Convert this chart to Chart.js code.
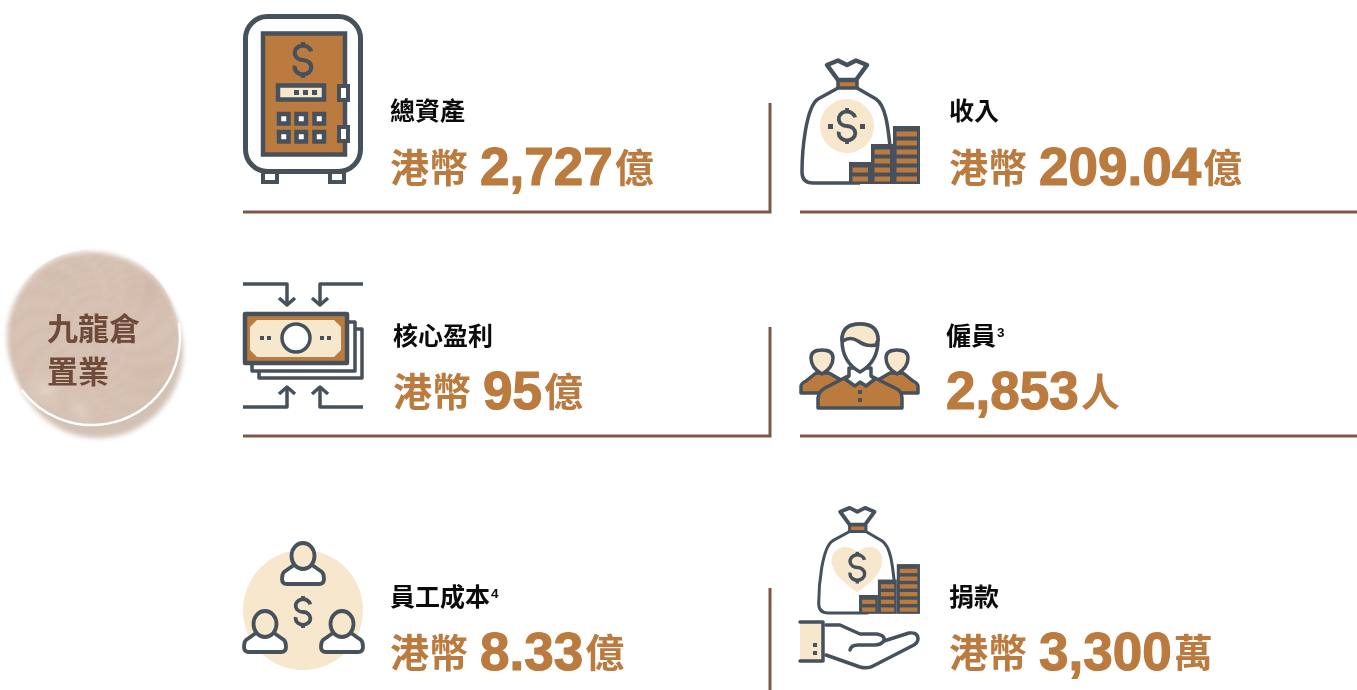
<!DOCTYPE html>
<html>
<head>
<meta charset="utf-8">
<style>
  html, body { margin: 0; padding: 0; background: #fff; overflow: hidden; }
  canvas { display: block; }
</style>
</head>
<body>
<canvas id="chart" width="1357" height="690"></canvas>
<script src="https://cdn.jsdelivr.net/npm/chart.js@4"></script>
<script>
const companyName = ["九龍倉", "置業"];
const metricLabels = ["總資產", "收入", "核心盈利", "僱員", "員工成本", "捐款"];
const metricNotes = ["", "", "", "3", "4", ""];
const metricPrefixes = ["港幣", "港幣", "港幣", "", "港幣", "港幣"];
const metricValues = ["2,727", "209.04", "95", "2,853", "8.33", "3,300"];
const metricUnits = ["億", "億", "億", "人", "億", "萬"];

// where each card's text sits, in axis units
const cardX = [390, 949, 393, 946, 390, 949];
const cardTitleY = [120, 120, 345, 345, 606, 606];
const cardValueY = [185, 185, 409, 409, 670, 670];

const SLATE = "#46515c";
const BROWN = "#bb7b3f";
const CREAM = "#f6e7cd";
const RULE = "#7c5848";
const CJK = '"Noto Sans CJK TC"';
const LATIN = '"Liberation Sans"';

// divider rules, one dataset each
const ruleLines = [
  [[243, 212], [770, 212], [770, 103]],
  [[800, 212], [1357, 212]],
  [[243, 436], [770, 436], [770, 327]],
  [[800, 436], [1357, 436]],
  [[770, 588], [770, 690]],
];

function poly(ctx, pts, close) {
  ctx.beginPath();
  pts.forEach((p, i) => (i ? ctx.lineTo(p[0], p[1]) : ctx.moveTo(p[0], p[1])));
  if (close) ctx.closePath();
}

function box(ctx, x, y, w, h, fill, lw) {
  ctx.fillStyle = fill;
  ctx.fillRect(x, y, w, h);
  ctx.lineWidth = lw;
  ctx.strokeStyle = SLATE;
  ctx.strokeRect(x, y, w, h);
}

function dollar(ctx, cx, cy, h, lw) {
  const rx = h * 0.23;
  const ry = h * 0.2;
  ctx.strokeStyle = SLATE;
  ctx.lineWidth = lw;
  ctx.lineCap = "butt";
  ctx.beginPath();
  ctx.ellipse(cx, cy - ry, rx, ry, 0, -0.2, Math.PI / 2, true);
  ctx.ellipse(cx, cy + ry, rx, ry, 0, -Math.PI / 2, Math.PI + 0.2, false);
  ctx.stroke();
  ctx.beginPath();
  ctx.moveTo(cx, cy - h / 2);
  ctx.lineTo(cx, cy - 2 * ry);
  ctx.moveTo(cx, cy + h / 2);
  ctx.lineTo(cx, cy + 2 * ry);
  ctx.stroke();
}

function drawSafe(ctx) {
  ctx.lineWidth = 4.5;
  ctx.strokeStyle = SLATE;
  box(ctx, 263, 172, 14, 10, "#fff", 4);
  box(ctx, 330, 172, 14, 10, "#fff", 4);
  ctx.lineWidth = 5;
  ctx.strokeStyle = SLATE;
  ctx.beginPath();
  ctx.roundRect(245.5, 16.5, 115, 155, 22);
  ctx.fillStyle = "#fff";
  ctx.fill();
  ctx.stroke();
  box(ctx, 263, 33.5, 82, 121, BROWN, 4.5);
  dollar(ctx, 303, 60, 36, 4.2);
  box(ctx, 278, 85.5, 46, 14, CREAM, 4.5);
  ctx.fillStyle = SLATE;
  [294, 303, 312].forEach((x) => ctx.fillRect(x, 90, 5, 5));
  [279, 296.5, 314.5].forEach((x) => {
    [114, 132].forEach((y) => {
      box(ctx, x, y, 9.5, 9.5, "#fff", 4.5);
    });
  });
  box(ctx, 339, 86, 9, 14, "#fff", 4);
  box(ctx, 339, 127, 9, 14, "#fff", 4);
}

// money bag with coin stacks, drawn around its lower left corner
function drawBag(ctx, ox, oy, s, inner) {
  ctx.save();
  ctx.translate(ox, oy);
  ctx.scale(s, s);
  ctx.translate(-800, -183);
  ctx.strokeStyle = SLATE;
  ctx.lineWidth = 4.5;
  ctx.lineJoin = "round";
  poly(ctx, [[827, 65], [838, 60.5], [847, 65], [856, 60.5], [867, 65], [856, 80], [838, 80]], true);
  ctx.stroke();
  box(ctx, 838, 80.5, 19, 7.5, BROWN, 3.5);
  ctx.beginPath();
  ctx.moveTo(838, 88);
  ctx.lineTo(818, 99);
  ctx.bezierCurveTo(806, 107, 802, 150, 802, 172);
  ctx.quadraticCurveTo(802, 183, 813, 183);
  ctx.lineTo(860, 183);
  ctx.moveTo(857, 88);
  ctx.lineTo(876, 99);
  ctx.bezierCurveTo(886, 106, 888, 128, 890, 146);
  ctx.stroke();
  inner(ctx);
  const stacks = [[849, 162], [871, 144], [893, 126]];
  const rows = [132, 141, 150, 159, 168, 177];
  stacks.forEach((st, i) => {
    const w = i === 2 ? 27 : 22;
    ctx.fillStyle = SLATE;
    ctx.fillRect(st[0], st[1], w, 184 - st[1]);
    ctx.fillStyle = BROWN;
    rows.filter((y) => y > st[1]).forEach((y) => ctx.fillRect(st[0] + 3.5, y - 0.5, w - 6.5, 5));
  });
  ctx.restore();
}

function drawHand(ctx) {
  ctx.fillStyle = CREAM;
  ctx.fillRect(800, 622, 23, 39);
  ctx.strokeStyle = SLATE;
  ctx.lineWidth = 3.5;
  ctx.lineJoin = "round";
  ctx.lineCap = "round";
  poly(ctx, [[800, 622], [823, 622], [823, 661], [800, 661]]);
  ctx.stroke();
  ctx.fillStyle = SLATE;
  ctx.fillRect(813, 643, 4, 4);
  ctx.fillRect(813, 651, 4, 4);
  ctx.beginPath();
  ctx.moveTo(826, 625);
  ctx.lineTo(840, 625);
  ctx.lineTo(860, 634);
  ctx.lineTo(877, 634);
  ctx.quadraticCurveTo(887, 636, 883, 642);
  ctx.quadraticCurveTo(880, 645, 875, 645);
  ctx.lineTo(858, 645);
  ctx.quadraticCurveTo(851, 645, 850, 650);
  ctx.moveTo(884, 641);
  ctx.lineTo(909, 633);
  ctx.quadraticCurveTo(918, 632, 918, 639);
  ctx.quadraticCurveTo(918, 643, 912, 646);
  ctx.lineTo(873, 666);
  ctx.quadraticCurveTo(868, 669, 860, 667);
  ctx.lineTo(826, 655);
  ctx.stroke();
  ctx.lineCap = "butt";
}

function drawMoney(ctx) {
  ctx.strokeStyle = SLATE;
  ctx.lineWidth = 3.5;
  ctx.lineCap = "butt";
  ctx.lineJoin = "round";
  poly(ctx, [[243, 284], [287, 284], [287, 305]]);
  ctx.stroke();
  poly(ctx, [[279, 298], [287, 305], [295, 298]]);
  ctx.stroke();
  poly(ctx, [[363, 284], [320, 284], [320, 305]]);
  ctx.stroke();
  poly(ctx, [[312, 298], [320, 305], [328, 298]]);
  ctx.stroke();
  poly(ctx, [[243, 407], [287, 407], [287, 387]]);
  ctx.stroke();
  poly(ctx, [[279, 394], [287, 387], [295, 394]]);
  ctx.stroke();
  poly(ctx, [[363, 407], [320, 407], [320, 387]]);
  ctx.stroke();
  poly(ctx, [[312, 394], [320, 387], [328, 394]]);
  ctx.stroke();
  box(ctx, 259, 329, 103, 49, "#fff", 3.5);
  box(ctx, 252, 322, 103, 49, "#fff", 3.5);
  box(ctx, 245, 314, 102, 49, BROWN, 4.5);
  poly(ctx, [[257, 320], [334, 320], [341, 327], [341, 350], [334, 357], [257, 357], [250, 350], [250, 327]], true);
  ctx.fillStyle = CREAM;
  ctx.fill();
  ctx.beginPath();
  ctx.arc(296, 338, 14, 0, Math.PI * 2);
  ctx.fillStyle = "#fff";
  ctx.fill();
  ctx.lineWidth = 3.5;
  ctx.stroke();
  ctx.fillStyle = SLATE;
  [260, 267, 320, 327].forEach((x) => ctx.fillRect(x, 336, 4, 4));
}

function drawPeople(ctx) {
  ctx.strokeStyle = SLATE;
  ctx.lineWidth = 3.5;
  ctx.lineJoin = "round";
  [[822, 801, 1], [897, 918, -1]].forEach(([cx, edge, d]) => {
    ctx.beginPath();
    ctx.moveTo(edge, 393);
    ctx.lineTo(edge, 387);
    ctx.quadraticCurveTo(edge, 383, edge + 5 * d, 381);
    ctx.lineTo(cx - 6 * d, 373);
    ctx.lineTo(cx + 7 * d, 373);
    ctx.lineTo(cx + 26 * d, 384);
    ctx.lineTo(cx + 26 * d, 393);
    ctx.closePath();
    ctx.fillStyle = BROWN;
    ctx.fill();
    ctx.stroke();
    ctx.beginPath();
    ctx.moveTo(cx - 11, 358);
    ctx.quadraticCurveTo(cx - 11, 350, cx, 350);
    ctx.quadraticCurveTo(cx + 11, 350, cx + 11, 358);
    ctx.quadraticCurveTo(cx + 11, 368, cx, 374);
    ctx.quadraticCurveTo(cx - 11, 368, cx - 11, 358);
    ctx.fillStyle = CREAM;
    ctx.fill();
    ctx.stroke();
  });
  // main body
  ctx.beginPath();
  ctx.moveTo(818, 408);
  ctx.lineTo(818, 398);
  ctx.quadraticCurveTo(819, 391, 825, 388);
  ctx.lineTo(848, 376);
  ctx.lineTo(871, 376);
  ctx.lineTo(895, 388);
  ctx.quadraticCurveTo(902, 391, 902, 398);
  ctx.lineTo(902, 408);
  ctx.closePath();
  ctx.fillStyle = BROWN;
  ctx.fill();
  ctx.stroke();
  // collar
  poly(ctx, [[849, 368], [849, 376], [845, 379], [855, 386], [860, 382], [866, 386], [875, 379], [871, 376], [871, 368]], true);
  ctx.fillStyle = "#fff";
  ctx.fill();
  ctx.stroke();
  // head
  ctx.beginPath();
  ctx.moveTo(842, 340);
  ctx.quadraticCurveTo(842, 324, 860, 324);
  ctx.quadraticCurveTo(878, 324, 878, 340);
  ctx.quadraticCurveTo(878, 362, 860, 372);
  ctx.quadraticCurveTo(842, 362, 842, 340);
  ctx.fillStyle = "#fff";
  ctx.fill();
  ctx.stroke();
  ctx.beginPath();
  ctx.moveTo(842, 340);
  ctx.quadraticCurveTo(842, 324, 860, 324);
  ctx.quadraticCurveTo(878, 324, 878, 340);
  ctx.lineTo(876, 345);
  ctx.quadraticCurveTo(866, 347, 858, 341);
  ctx.quadraticCurveTo(850, 336, 843, 341);
  ctx.closePath();
  ctx.fillStyle = CREAM;
  ctx.fill();
  ctx.stroke();
  ctx.fillStyle = SLATE;
  ctx.fillRect(858, 390, 4, 4);
  ctx.fillRect(858, 398, 4, 4);
}

function person(ctx, cx, cy) {
  ctx.beginPath();
  ctx.moveTo(cx - 9, cy + 9);
  ctx.lineTo(cx - 19, cy + 16);
  ctx.quadraticCurveTo(cx - 21, cy + 18, cx - 21, cy + 23);
  ctx.quadraticCurveTo(cx - 21, cy + 28, cx - 16, cy + 28);
  ctx.lineTo(cx + 16, cy + 28);
  ctx.quadraticCurveTo(cx + 21, cy + 28, cx + 21, cy + 23);
  ctx.quadraticCurveTo(cx + 21, cy + 18, cx + 19, cy + 16);
  ctx.lineTo(cx + 9, cy + 9);
  ctx.closePath();
  ctx.fillStyle = "#fff";
  ctx.fill();
  ctx.stroke();
  ctx.beginPath();
  ctx.ellipse(cx, cy, 11.5, 13, 0, 0, Math.PI * 2);
  ctx.fillStyle = CREAM;
  ctx.fill();
  ctx.stroke();
}

function drawStaff(ctx) {
  ctx.beginPath();
  ctx.arc(303, 610, 60, 0, Math.PI * 2);
  ctx.fillStyle = CREAM;
  ctx.fill();
  ctx.strokeStyle = SLATE;
  ctx.lineWidth = 3.8;
  ctx.lineJoin = "round";
  person(ctx, 303, 556);
  person(ctx, 265, 624);
  person(ctx, 342, 624);
  dollar(ctx, 303, 612, 32, 3.8);
}

function softPatch(ctx, x, y, r, color) {
  const g = ctx.createRadialGradient(x, y, 0, x, y, r);
  g.addColorStop(0, color);
  g.addColorStop(1, "rgba(214,191,176,0)");
  ctx.fillStyle = g;
  ctx.fillRect(x - r, y - r, r * 2, r * 2);
}

function drawBlob(ctx) {
  ctx.save();
  ctx.filter = "blur(2.5px)";
  ctx.beginPath();
  ctx.ellipse(98, 351, 85, 87, 0, 0, Math.PI * 2);
  ctx.fillStyle = "#d2c2b5";
  ctx.fill();
  ctx.beginPath();
  ctx.arc(92, 337, 85, 0, Math.PI * 2);
  ctx.fillStyle = "#d6c1b3";
  ctx.fill();
  ctx.filter = "none";
  ctx.restore();
  ctx.save();
  ctx.beginPath();
  ctx.arc(92, 337, 87, 0, Math.PI * 2);
  ctx.clip();
  softPatch(ctx, 150, 290, 40, "rgba(207,180,168,0.7)");
  softPatch(ctx, 60, 280, 45, "rgba(211,191,176,0.8)");
  softPatch(ctx, 45, 390, 30, "rgba(228,216,203,0.8)");
  softPatch(ctx, 80, 410, 26, "rgba(226,212,199,0.7)");
  softPatch(ctx, 150, 375, 40, "rgba(208,186,172,0.7)");
  // faint brush flecks, spread on a golden-angle spiral
  ctx.lineWidth = 2;
  ctx.lineCap = "round";
  ctx.filter = "blur(1.5px)";
  for (let i = 0; i < 260; i++) {
    const r = 86 * Math.sqrt(i / 260);
    const a = i * 2.39996;
    const x = 92 + r * Math.cos(a);
    const y = 337 + r * Math.sin(a);
    ctx.strokeStyle = i % 2 ? "rgba(190,165,150,0.15)" : "rgba(238,228,218,0.14)";
    ctx.beginPath();
    ctx.moveTo(x - 4, y + 2);
    ctx.lineTo(x + 4, y - 2);
    ctx.stroke();
  }
  ctx.filter = "none";
  ctx.lineCap = "butt";
  ctx.restore();
  ctx.strokeStyle = "#fff";
  ctx.lineWidth = 2.5;
  ctx.beginPath();
  ctx.arc(92, 337, 88, -0.16, 2.5);
  ctx.stroke();
  ctx.fillStyle = "#6f4a3a";
  ctx.font = "bold 31px " + CJK;
  ctx.textBaseline = "alphabetic";
  ctx.fillText(companyName[0], 47, 340);
  ctx.fillText(companyName[1], 47, 383);
}

function drawCards(chart) {
  const ctx = chart.ctx;
  const xs = chart.scales.x;
  const ys = chart.scales.y;
  ctx.textBaseline = "alphabetic";
  metricLabels.forEach((label, i) => {
    const x = xs.getPixelForValue(cardX[i]);
    ctx.fillStyle = "#0b0b0b";
    ctx.font = "bold 25px " + CJK;
    ctx.fillText(label, x, ys.getPixelForValue(cardTitleY[i]));
    if (metricNotes[i]) {
      const w = ctx.measureText(label).width;
      ctx.font = "bold 13.5px " + LATIN;
      ctx.fillText(metricNotes[i], x + w + 1, ys.getPixelForValue(cardTitleY[i] - 8));
    }
    const base = ys.getPixelForValue(cardValueY[i]);
    let tx = x;
    ctx.fillStyle = BROWN;
    if (metricPrefixes[i]) {
      ctx.font = "bold 39px " + CJK;
      ctx.fillText(metricPrefixes[i], tx, base - 3);
      tx += 90;
    }
    ctx.font = "bold 53px " + LATIN;
    ctx.strokeStyle = BROWN;
    ctx.lineWidth = 1.2;
    ctx.lineJoin = "round";
    ctx.fillText(metricValues[i], tx, base);
    ctx.strokeText(metricValues[i], tx, base);
    tx += ctx.measureText(metricValues[i]).width + 2;
    ctx.font = "bold 39px " + CJK;
    ctx.fillText(metricUnits[i], tx, base - 3);
  });
}

const infographic = {
  id: "infographic",
  afterDraw(chart) {
    const ctx = chart.ctx;
    ctx.save();
    drawBlob(ctx);
    drawSafe(ctx);
    drawBag(ctx, 800, 183, 1, (c) => {
      c.beginPath();
      c.arc(847, 126, 27, 0, Math.PI * 2);
      c.fillStyle = CREAM;
      c.fill();
      dollar(c, 847, 126, 36, 3.8);
      c.fillStyle = SLATE;
      c.fillRect(828, 124, 5, 5);
      c.fillRect(860, 124, 5, 5);
    });
    drawBag(ctx, 817, 613, 0.858, (c) => {
      c.beginPath();
      c.moveTo(847, 159);
      c.bezierCurveTo(830, 146, 817, 136, 817, 122);
      c.bezierCurveTo(817, 112, 825, 106, 833, 106);
      c.bezierCurveTo(840, 106, 845, 110, 847, 113);
      c.bezierCurveTo(849, 110, 854, 106, 862, 106);
      c.bezierCurveTo(870, 106, 876, 112, 876, 122);
      c.bezierCurveTo(876, 136, 864, 146, 847, 159);
      c.fillStyle = CREAM;
      c.fill();
      dollar(c, 847, 130, 37, 4);
    });
    drawHand(ctx);
    drawMoney(ctx);
    drawPeople(ctx);
    drawStaff(ctx);
    drawCards(chart);
    ctx.restore();
  },
};

new Chart(document.getElementById("chart"), {
  type: "scatter",
  data: {
    datasets: ruleLines.map((pts) => ({
      data: pts.map((p) => ({ x: p[0], y: p[1] })),
      showLine: true,
      borderColor: RULE,
      borderWidth: 3,
      pointRadius: 0,
      borderJoinStyle: "miter",
    })),
  },
  options: {
    responsive: false,
    animation: false,
    layout: { padding: 0 },
    scales: {
      x: { type: "linear", min: 0, max: 1357, display: false },
      y: { type: "linear", min: 0, max: 690, reverse: true, display: false },
    },
    plugins: { legend: { display: false }, tooltip: { enabled: false } },
  },
  plugins: [infographic],
});
</script>
</body>
</html>
